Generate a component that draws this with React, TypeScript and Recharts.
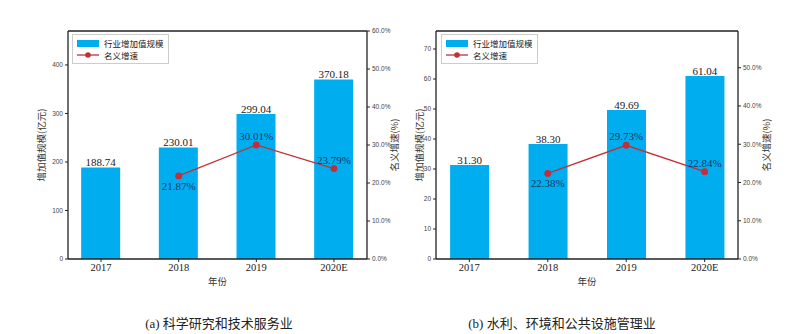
import React from 'react';
import {
  ComposedChart, Bar, Line, XAxis, YAxis, Legend, LabelList, ReferenceLine
} from 'recharts';

const years = ['2017', '2018', '2019', '2020E'];

// (a) 科学研究和技术服务业
const sciValue = [188.74, 230.01, 299.04, 370.18];
const sciGrowth = [null, 21.87, 30.01, 23.79];
const sciLeftTicks = [0, 100, 200, 300, 400];
const sciRightTicks = [0, 10, 20, 30, 40, 50, 60];

// (b) 水利、环境和公共设施管理业
const waterValue = [31.3, 38.3, 49.69, 61.04];
const waterGrowth = [null, 22.38, 29.73, 22.84];
const waterLeftTicks = [0, 10, 20, 30, 40, 50, 60, 70];
const waterRightTicks = [0, 10, 20, 30, 40, 50];

const BLUE = '#00aeef';
const RED = '#c0303a';
const AXIS = '#222';
const CJK = '"Noto Sans CJK SC", "Noto Sans", sans-serif';
const SERIF = '"Liberation Serif", "Noto Sans CJK SC", serif';

const tickStyle = { fontSize: 6.5, fill: '#444', fontFamily: '"Liberation Sans", sans-serif' };

const LegendBox = () => (
  <div style={{ border: '1px solid #ccc', background: '#fff', padding: '2px 4px', fontFamily: CJK, fontSize: 8.5, lineHeight: '12px', color: '#222' }}>
    <div style={{ display: 'flex', alignItems: 'center' }}>
      <span style={{ display: 'inline-block', width: 22, height: 7, background: BLUE, marginRight: 5 }} />
      行业增加值规模
    </div>
    <div style={{ display: 'flex', alignItems: 'center' }}>
      <svg width={22} height={8} style={{ marginRight: 5 }}>
        <line x1={0} x2={22} y1={4} y2={4} stroke={RED} strokeWidth={1.3} />
        <circle cx={11} cy={4} r={2.8} fill={RED} />
      </svg>
      名义增速
    </div>
  </div>
);

const growthLabel = (props: any) => {
  const { x, y, value, index } = props;
  if (value == null) return null;
  const below = index === 1;
  return (
    <text x={x} y={below ? y + 14 : y - 5} textAnchor="middle" fontSize={11} fontFamily={SERIF} fill="#1c3568">
      {Number(value).toFixed(2)}%
    </text>
  );
};

interface PanelProps {
  values: number[];
  growth: (number | null)[];
  leftMax: number;
  leftTicks: number[];
  rightMax: number;
  rightTicks: number[];
  margin: { left: number; right: number };
  leftWidth: number;
  rightWidth: number;
  leftLabelOffset: number;
  rightLabelOffset: number;
  legendLeft: number;
  barSize: number;
}

const Panel: React.FC<PanelProps> = (p) => {
  const data = years.map((y, i) => ({ i, year: y, value: p.values[i], growth: p.growth[i] }));
  const xDomain = [-0.425, 3.425];
  return (
    <ComposedChart width={400} height={334} data={data} margin={{ top: 31, bottom: 48, left: p.margin.left, right: p.margin.right }}>
      <XAxis
        xAxisId="x" dataKey="i" type="number" domain={xDomain} ticks={[0, 1, 2, 3]} allowDataOverflow
        tickFormatter={(v: number) => years[v]} height={27}
        axisLine={{ stroke: AXIS, strokeWidth: 1.3 }} tickLine={{ stroke: AXIS }} tickSize={3}
        tick={{ fontSize: 10.5, fill: '#222', fontFamily: SERIF }}
        label={{ value: '年份', position: 'insideBottom', offset: 1, style: { fontSize: 9.5, fill: '#333', fontFamily: CJK } }}
      />
      <YAxis
        yAxisId="left" domain={[0, p.leftMax]} ticks={p.leftTicks} width={p.leftWidth} allowDataOverflow
        axisLine={{ stroke: AXIS, strokeWidth: 1.3 }} tickLine={{ stroke: AXIS }} tickSize={3} tick={tickStyle}
        label={{ value: '增加值规模(亿元)', angle: -90, position: 'insideLeft', offset: p.leftLabelOffset, style: { textAnchor: 'middle', fontSize: 9.5, fill: '#333', fontFamily: CJK } }}
      />
      <YAxis
        yAxisId="right" orientation="right" domain={[0, p.rightMax]} ticks={p.rightTicks} width={p.rightWidth} allowDataOverflow
        tickFormatter={(v: number) => `${v.toFixed(1)}%`}
        axisLine={{ stroke: AXIS, strokeWidth: 1.3 }} tickLine={{ stroke: AXIS }} tickSize={3} tick={tickStyle}
        label={{ value: '名义增速(%)', angle: -90, position: 'insideRight', offset: p.rightLabelOffset, style: { textAnchor: 'middle', fontSize: 9.5, fill: '#333', fontFamily: CJK } }}
      />
      <ReferenceLine xAxisId="x" yAxisId="left" y={p.leftMax} stroke={AXIS} strokeWidth={1.3} />
      <Legend content={() => <LegendBox />} layout="horizontal" verticalAlign="middle" align="center"
        wrapperStyle={{ position: 'absolute', left: p.legendLeft, top: 34, width: 'auto' }} />
      <Bar xAxisId="x" yAxisId="left" dataKey="value" fill={BLUE} barSize={p.barSize} isAnimationActive={false}>
        <LabelList dataKey="value" position="top" offset={1}
          formatter={(v: number) => v.toFixed(2)}
          style={{ fontSize: 11, fill: '#222', fontFamily: SERIF }} />
      </Bar>
      <Line xAxisId="x" yAxisId="right" dataKey="growth" stroke={RED} strokeWidth={1.3}
        dot={{ r: 2.8, fill: RED, stroke: RED }} activeDot={false} isAnimationActive={false}>
        <LabelList dataKey="growth" content={growthLabel} />
      </Line>
    </ComposedChart>
  );
};

const captionStyle: React.CSSProperties = {
  position: 'absolute', top: 313, fontSize: 13, fontFamily: SERIF, color: '#222', whiteSpace: 'nowrap', transform: 'translateX(-50%)',
};

export default function App() {
  return (
    <div style={{ position: 'absolute', left: 0, top: 0, width: 800, height: 334, background: '#fff', overflow: 'hidden' }}>
      <div style={{ position: 'absolute', left: 0, top: 0 }}>
        <Panel values={sciValue} growth={sciGrowth} leftMax={470} leftTicks={sciLeftTicks}
          rightMax={60} rightTicks={sciRightTicks} margin={{ left: 18, right: 0 }}
          leftWidth={50} rightWidth={33} leftLabelOffset={24} rightLabelOffset={5} legendLeft={72} barSize={39} />
      </div>
      <div style={{ position: 'absolute', left: 400, top: 0 }}>
        <Panel values={waterValue} growth={waterGrowth} leftMax={76} leftTicks={waterLeftTicks}
          rightMax={59.6} rightTicks={waterRightTicks} margin={{ left: 6, right: 0 }}
          leftWidth={30} rightWidth={62} leftLabelOffset={14} rightLabelOffset={33} legendLeft={41} barSize={39} />
      </div>
      <div style={{ ...captionStyle, left: 219 }}>(a) 科学研究和技术服务业</div>
      <div style={{ ...captionStyle, left: 562 }}>(b) 水利、环境和公共设施管理业</div>
    </div>
  );
}
